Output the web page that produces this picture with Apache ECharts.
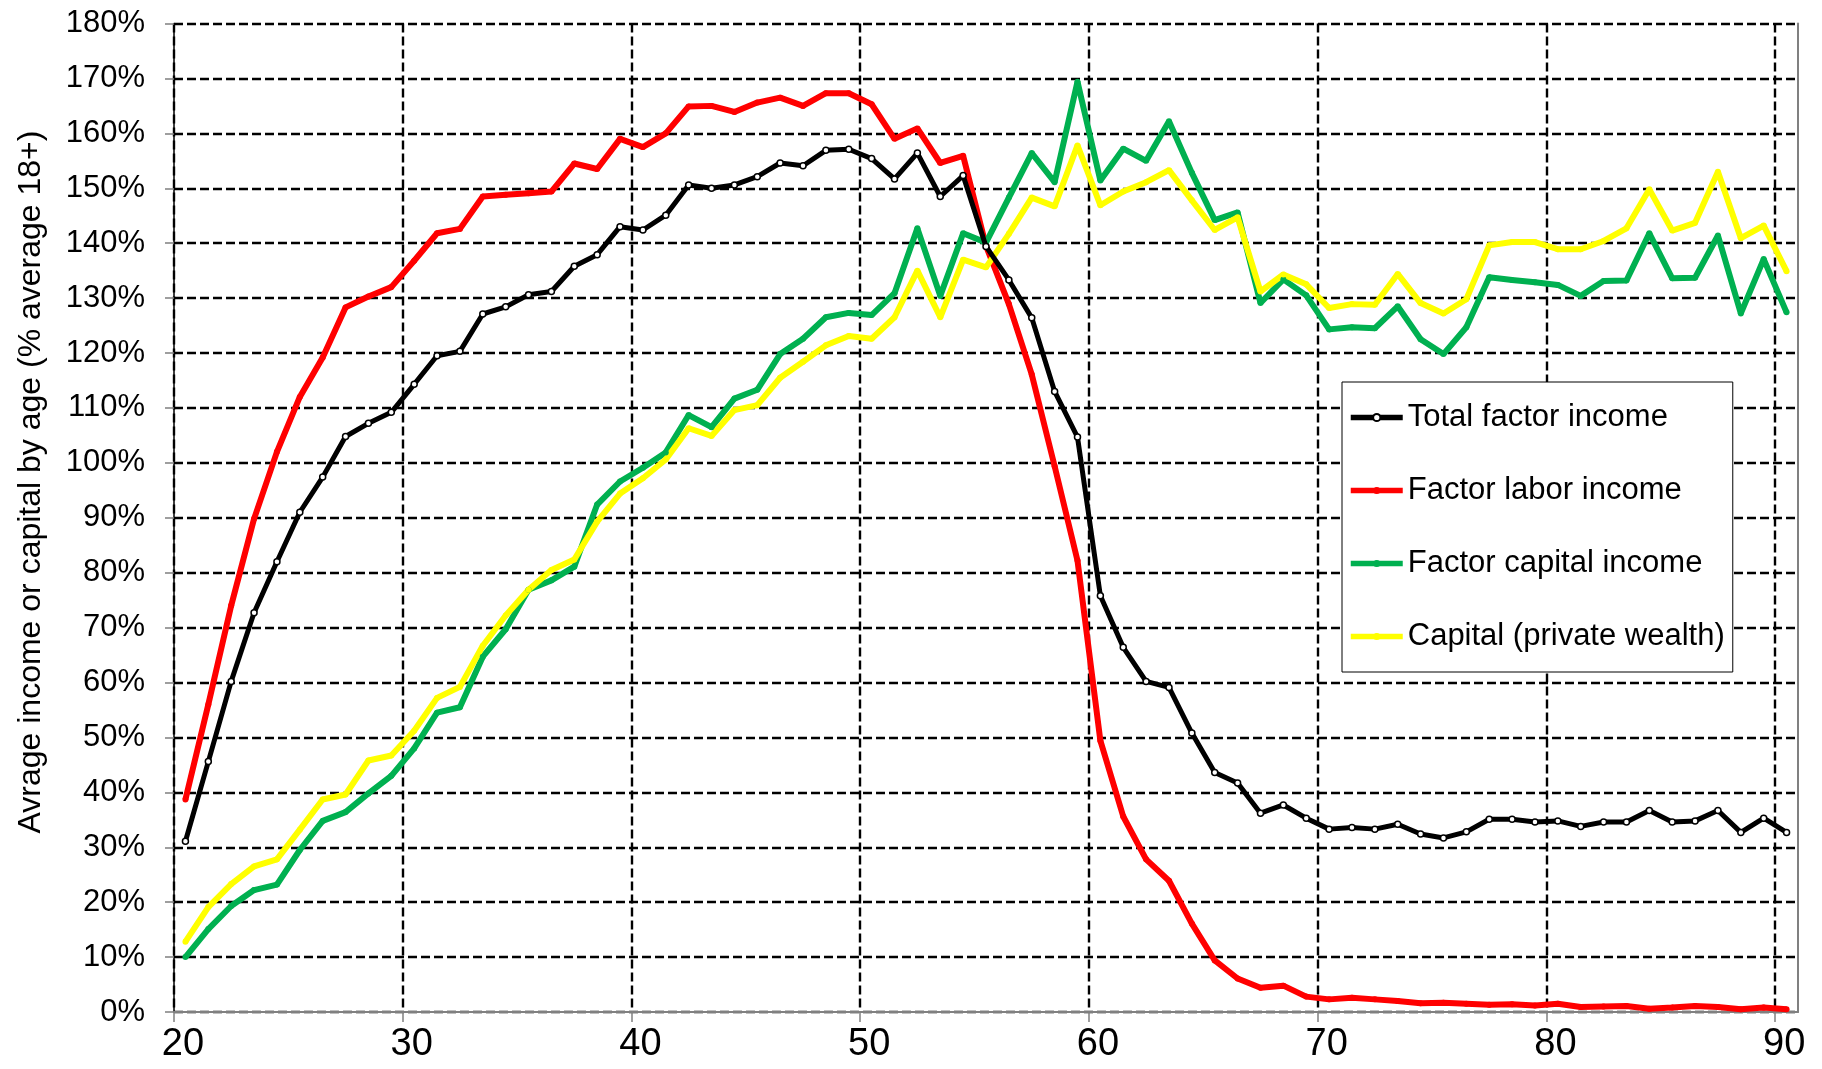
<!DOCTYPE html>
<html>
<head>
<meta charset="utf-8">
<script src="https://cdn.jsdelivr.net/npm/echarts/dist/echarts.min.js"></script>
<style>
  html, body { margin: 0; padding: 0; background: #fff; }
  #main { width: 1822px; height: 1069px; }
</style>
</head>
<body>
<div id="main"></div>
<script>
// ages (one point per age, drawn at the middle of the year)
const ages = [
  20, 21, 22, 23, 24, 25, 26, 27, 28, 29,
  30, 31, 32, 33, 34, 35, 36, 37, 38, 39,
  40, 41, 42, 43, 44, 45, 46, 47, 48, 49,
  50, 51, 52, 53, 54, 55, 56, 57, 58, 59,
  60, 61, 62, 63, 64, 65, 66, 67, 68, 69,
  70, 71, 72, 73, 74, 75, 76, 77, 78, 79,
  80, 81, 82, 83, 84, 85, 86, 87, 88, 89,
  90
]
const POINT_OFFSET = 0.5

// % of average 18+
const totalIncome = [
  31.1, 45.6, 60.2, 72.7, 82.0, 91.0, 97.4, 104.8, 107.2, 109.2,
  114.3, 119.5, 120.3, 127.1, 128.4, 130.6, 131.2, 135.8, 137.9, 143.0,
  142.4, 145.1, 150.6, 150.0, 150.6, 152.1, 154.6, 154.1, 156.9, 157.1,
  155.4, 151.7, 156.4, 148.5, 152.3, 139.4, 133.3, 126.4, 113.0, 104.7,
  75.8, 66.4, 60.2, 59.1, 50.8, 43.6, 41.7, 36.2, 37.7, 35.3,
  33.3, 33.6, 33.3, 34.2, 32.4, 31.7, 32.8, 35.1, 35.1, 34.6,
  34.8, 33.8, 34.6, 34.6, 36.7, 34.6, 34.8, 36.7, 32.7, 35.3,
  32.7
]
const laborIncome = [
  38.7, 56.0, 74.0, 89.8, 102.0, 112.0, 119.2, 128.3, 130.3, 132.0,
  136.8, 141.8, 142.6, 148.5, 148.8, 149.1, 149.4, 154.5, 153.5, 159.0,
  157.5, 160.0, 164.9, 165.0, 163.9, 165.6, 166.5, 165.0, 167.3, 167.3,
  165.3, 159.0, 160.9, 154.6, 155.9, 139.5, 128.9, 116.1, 99.4, 82.2,
  49.4, 35.6, 27.8, 23.9, 16.1, 9.4, 6.1, 4.4, 4.8, 2.8,
  2.3, 2.6, 2.3, 2.0, 1.6, 1.7, 1.5, 1.3, 1.4, 1.2,
  1.5, 0.9, 1.0, 1.1, 0.6, 0.8, 1.1, 0.9, 0.5, 0.8,
  0.5
]
const capitalIncome = [
  10.0, 15.1, 19.3, 22.2, 23.2, 29.5, 34.8, 36.4, 39.8, 43.0,
  48.0, 54.5, 55.5, 64.7, 69.7, 76.9, 78.6, 81.1, 92.4, 96.6,
  99.1, 101.9, 108.7, 106.5, 111.7, 113.3, 119.8, 122.6, 126.5, 127.3,
  126.9, 130.9, 142.7, 130.4, 141.8, 140.1, 148.3, 156.4, 151.1, 169.4,
  151.4, 157.2, 155.0, 162.2, 152.8, 144.2, 145.6, 129.1, 133.4, 130.5,
  124.3, 124.7, 124.5, 128.5, 122.5, 119.8, 124.7, 133.8, 133.3, 132.9,
  132.4, 130.4, 133.1, 133.2, 141.8, 133.6, 133.7, 141.4, 127.2, 137.1,
  127.4
]
const privateWealth = [
  12.8, 19.1, 23.3, 26.5, 27.8, 33.2, 38.7, 39.6, 45.8, 46.7,
  51.2, 57.2, 59.2, 66.7, 72.2, 76.9, 80.5, 82.4, 89.3, 94.4,
  97.2, 100.6, 106.3, 104.9, 109.6, 110.5, 115.5, 118.4, 121.4, 123.1,
  122.6, 126.5, 135.0, 126.5, 137.0, 135.6, 141.7, 148.3, 146.7, 157.8,
  146.9, 149.4, 151.1, 153.3, 147.8, 142.4, 144.7, 131.2, 134.3, 132.5,
  128.2, 128.9, 128.8, 134.4, 129.1, 127.2, 129.8, 139.6, 140.2, 140.2,
  138.9, 138.9, 140.4, 142.7, 149.8, 142.3, 143.7, 153.0, 140.9, 143.2,
  134.9
]

const xTicks = [20, 30, 40, 50, 60, 70, 80, 90]
const seriesNames = ['Total factor income', 'Factor labor income', 'Factor capital income', 'Capital (private wealth)']
const yTitle = 'Avrage income or capital by age (% average 18+)'

const FONT = '"Liberation Sans", Arial, sans-serif'

function pairs(values) {
  return ages.map((a, i) => [a + POINT_OFFSET, values[i]])
}

const chart = echarts.init(document.getElementById('main'))
const dashed = { color: '#000', type: [9, 4], width: 2.4 }

const option = {
  animation: false,
  backgroundColor: '#fff',
  grid: { left: 174, right: 24, top: 23.5, bottom: 57, containLabel: false },
  xAxis: {
    type: 'value',
    min: 20,
    max: 91,
    interval: 10,
    axisLine: { lineStyle: { color: '#808080', width: 2 } },
    axisTick: { show: true, length: 10, customValues: xTicks, lineStyle: { color: '#808080', width: 1.5 } },
    axisLabel: {
      customValues: xTicks,
      fontSize: 38,
      fontFamily: FONT,
      color: '#000',
      margin: 14,
      padding: [0, 0, 0, 18]
    },
    splitLine: { show: true, lineStyle: dashed }
  },
  yAxis: [
    {
      type: 'value',
      min: 0,
      max: 180,
      interval: 10,
      position: 'left',
      axisLine: { show: true, lineStyle: { color: '#000', width: 1.5 } },
      axisTick: { show: true, length: 9, lineStyle: { color: '#808080', width: 1.5 } },
      axisLabel: {
        formatter: '{value}%',
        fontSize: 31,
        fontFamily: FONT,
        color: '#000',
        margin: 29
      },
      splitLine: { show: true, lineStyle: dashed }
    },
    {
      // right frame line only
      type: 'value',
      min: 0,
      max: 180,
      position: 'right',
      axisLine: { show: true, lineStyle: { color: '#808080', width: 2 } },
      axisTick: { show: false },
      axisLabel: { show: false },
      splitLine: { show: false }
    }
  ],
  legend: {
    data: seriesNames,
    orient: 'vertical',
    left: 1342,
    top: 382,
    padding: [20, 8, 20, 6],
    itemGap: 42,
    itemWidth: 52,
    itemHeight: 9,
    backgroundColor: '#fff',
    borderColor: '#000',
    borderWidth: 1,
    borderRadius: 0,
    lineStyle: { width: 5.5 },
    textStyle: { fontSize: 31, fontFamily: FONT, color: '#000' }
  },
  graphic: [
    {
      type: 'text',
      x: 31,
      y: 482,
      rotation: Math.PI / 2,
      style: {
        text: yTitle,
        fontSize: 32,
        fontFamily: FONT,
        fill: '#000',
        align: 'center',
        verticalAlign: 'middle'
      }
    }
  ],
  series: [
    {
      name: seriesNames[0],
      type: 'line',
      color: '#000',
      symbol: 'circle',
      symbolSize: 6,
      lineStyle: { color: '#000', width: 5 },
      itemStyle: { color: '#fff', borderColor: '#000', borderWidth: 1.5 },
      z: 3,
      data: pairs(totalIncome)
    },
    {
      name: seriesNames[1],
      type: 'line',
      color: '#ff0000',
      symbol: 'circle',
      symbolSize: 6,
      lineStyle: { color: '#ff0000', width: 6 },
      itemStyle: { color: '#ff0000' },
      z: 2,
      data: pairs(laborIncome)
    },
    {
      name: seriesNames[2],
      type: 'line',
      color: '#00b050',
      symbol: 'circle',
      symbolSize: 6,
      lineStyle: { color: '#00b050', width: 6 },
      itemStyle: { color: '#00b050' },
      z: 2,
      data: pairs(capitalIncome)
    },
    {
      name: seriesNames[3],
      type: 'line',
      color: '#ffff00',
      symbol: 'circle',
      symbolSize: 6,
      lineStyle: { color: '#ffff00', width: 6 },
      itemStyle: { color: '#ffff00' },
      z: 2,
      data: pairs(privateWealth)
    }
  ]
}

option && chart.setOption(option)
</script>
</body>
</html>
